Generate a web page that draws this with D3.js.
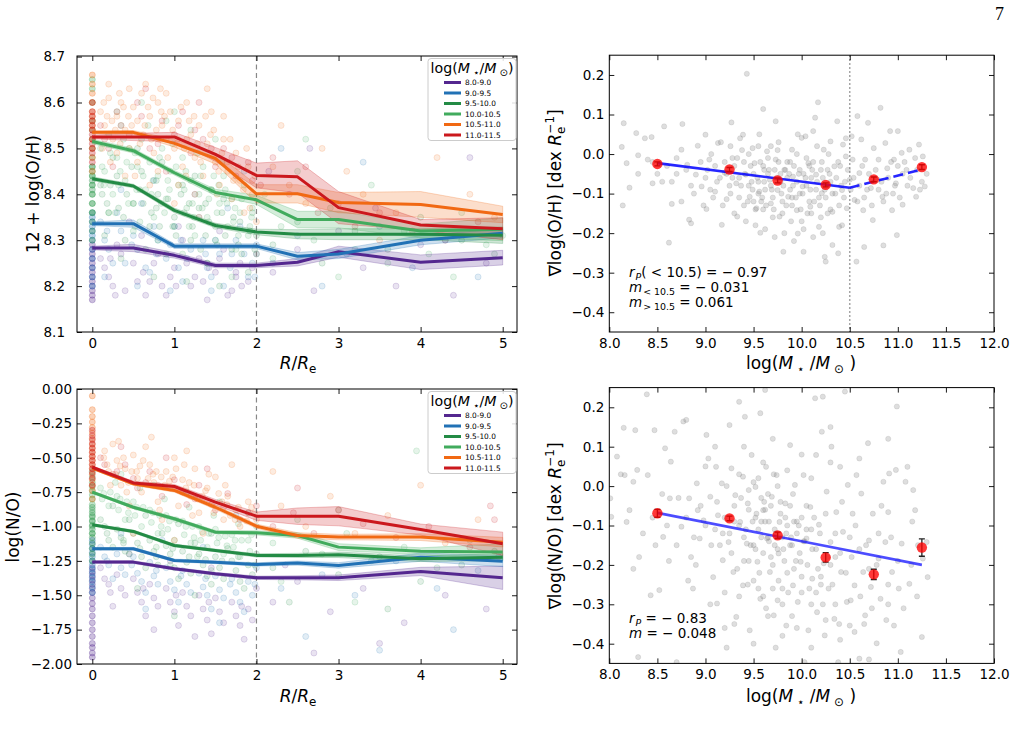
<!DOCTYPE html>
<html>
<head>
<meta charset="utf-8">
<script src="https://cdn.jsdelivr.net/npm/d3@7"></script>
<style>
  body { margin: 0; background: #fff; }
  svg text { font-family: "DejaVu Sans", sans-serif; fill: #000; }
</style>
</head>
<body>
<svg id="fig" width="1025" height="734"></svg>
<script>
// ---------------- data ----------------
const radii = [0, 0.5, 1, 1.5, 2, 2.5, 3, 4, 5];
const massBins = ["8.0-9.0", "9.0-9.5", "9.5-10.0", "10.0-10.5", "10.5-11.0", "11.0-11.5"];
const binColors = ["#54278f", "#2171b5", "#238b45", "#41ab5d", "#f16913", "#cb181d"];

// median profiles, one row per mass bin
const ohMedian = [
  [8.283, 8.283, 8.267, 8.245, 8.245, 8.252, 8.275, 8.252, 8.262],
  [8.336, 8.336, 8.287, 8.287, 8.287, 8.265, 8.270, 8.300, 8.315],
  [8.434, 8.418, 8.365, 8.332, 8.318, 8.313, 8.313, 8.313, 8.311],
  [8.515, 8.495, 8.447, 8.404, 8.388, 8.345, 8.345, 8.320, 8.324],
  [8.535, 8.535, 8.511, 8.478, 8.401, 8.401, 8.382, 8.378, 8.356],
  [8.525, 8.525, 8.525, 8.487, 8.441, 8.438, 8.371, 8.333, 8.325]
];
const ohErr = [
  [0.004, 0.008, 0.006, 0.005, 0.005, 0.008, 0.012, 0.016, 0.016],
  [0.004, 0.008, 0.005, 0.005, 0.005, 0.008, 0.010, 0.010, 0.010],
  [0.004, 0.004, 0.005, 0.005, 0.006, 0.010, 0.012, 0.012, 0.018],
  [0.005, 0.005, 0.005, 0.007, 0.010, 0.018, 0.018, 0.015, 0.025],
  [0.003, 0.004, 0.008, 0.012, 0.020, 0.020, 0.022, 0.028, 0.018],
  [0.004, 0.008, 0.010, 0.015, 0.027, 0.035, 0.035, 0.012, 0.024]
];
const noMedian = [
  [-1.259, -1.259, -1.307, -1.344, -1.373, -1.373, -1.373, -1.327, -1.373],
  [-1.162, -1.162, -1.247, -1.260, -1.276, -1.266, -1.283, -1.223, -1.252],
  [-0.988, -1.036, -1.138, -1.174, -1.210, -1.210, -1.206, -1.235, -1.223],
  [-0.750, -0.860, -0.944, -1.041, -1.046, -1.065, -1.150, -1.180, -1.186],
  [-0.576, -0.690, -0.738, -0.860, -0.998, -1.065, -1.077, -1.077, -1.114],
  [-0.569, -0.683, -0.709, -0.823, -0.925, -0.925, -0.925, -1.022, -1.126]
];
const noErr = [
  [0.008, 0.010, 0.010, 0.010, 0.012, 0.015, 0.020, 0.030, 0.085],
  [0.008, 0.010, 0.010, 0.010, 0.012, 0.015, 0.020, 0.030, 0.040],
  [0.008, 0.010, 0.010, 0.010, 0.012, 0.015, 0.020, 0.020, 0.025],
  [0.010, 0.010, 0.012, 0.012, 0.015, 0.020, 0.025, 0.025, 0.060],
  [0.008, 0.010, 0.012, 0.015, 0.015, 0.020, 0.020, 0.025, 0.035],
  [0.010, 0.012, 0.015, 0.020, 0.030, 0.060, 0.070, 0.040, 0.085]
];

// individual spaxel-bin values (R/Re, value), per mass bin
const ohScatter = [
  [[0.1,8.26],[0.2,8.22],[0.3,8.29],[0.4,8.19],[0.5,8.25],[0.6,8.31],[0.7,8.21],[0.8,8.27],[0.9,8.18],[1.0,8.24],[1.1,8.3],[1.2,8.2],[1.3,8.26],[1.4,8.17],[1.5,8.23],[1.6,8.28],[1.7,8.19],[1.8,8.25],[1.9,8.21],[2.0,8.27],[0.45,8.34],[1.05,8.33],[1.55,8.32],[2.2,8.23],[2.5,8.28],[2.7,8.19],[3.0,8.32],[3.3,8.24],[3.7,8.2],[4.0,8.29],[4.4,8.18],[4.8,8.25],[2.15,8.45],[2.65,8.5],[3.45,8.37],[4.6,8.48],[0.25,8.2],[0.65,8.18],[1.25,8.22],[1.75,8.23],
   [0.15,8.24],[0.35,8.27],[0.55,8.21],[0.75,8.25],[0.95,8.22],[1.15,8.25],[1.35,8.21],[1.55,8.26],[1.75,8.22],[1.95,8.24],[0.28,8.18],[0.85,8.2],[1.65,8.18],
   [0.22,8.26],[0.62,8.23],[1.02,8.2],[1.42,8.24],[1.82,8.2]],
  [[0.1,8.34],[0.2,8.28],[0.3,8.36],[0.4,8.25],[0.5,8.31],[0.6,8.38],[0.7,8.23],[0.8,8.3],[0.9,8.26],[1.0,8.33],[1.1,8.21],[1.2,8.28],[1.3,8.35],[1.4,8.24],[1.5,8.3],[1.6,8.2],[1.7,8.27],[1.8,8.33],[1.9,8.22],[2.0,8.29],[0.35,8.41],[0.75,8.43],[1.25,8.4],[0.55,8.2],[0.95,8.19],[1.65,8.37],[2.2,8.25],[2.5,8.31],[2.8,8.2],[3.1,8.27],[3.5,8.33],[3.9,8.24],[4.3,8.3],[4.7,8.22],[2.3,8.5],[3.3,8.47],[1.85,8.45],[0.15,8.22],[1.45,8.19],
   [0.15,8.3],[0.35,8.32],[0.55,8.28],[0.75,8.33],[0.95,8.29],[1.15,8.26],[1.35,8.3],[1.55,8.27],[1.75,8.3],[1.95,8.25],[0.25,8.25],[0.65,8.24],[1.05,8.24],[1.45,8.22],[1.85,8.27],
   [0.18,8.32],[0.48,8.29],[0.78,8.27],[1.08,8.3],[1.38,8.27],[1.68,8.24],[1.98,8.22]],
  [[0.1,8.42],[0.2,8.36],[0.3,8.44],[0.4,8.3],[0.5,8.38],[0.6,8.45],[0.7,8.33],[0.8,8.4],[0.9,8.27],[1.0,8.35],[1.1,8.42],[1.2,8.3],[1.3,8.37],[1.4,8.25],[1.5,8.33],[1.6,8.39],[1.7,8.28],[1.8,8.34],[1.9,8.23],[2.0,8.31],[0.25,8.48],[0.55,8.5],[0.85,8.47],[0.35,8.26],[0.75,8.22],[1.15,8.21],[1.55,8.2],[1.95,8.36],[2.2,8.29],[2.5,8.34],[2.8,8.25],[3.2,8.32],[3.6,8.28],[4.0,8.35],[4.5,8.3],[4.9,8.27],[1.25,8.44],[0.15,8.31],[0.65,8.28],[1.45,8.41],
   [0.12,8.4],[0.22,8.42],[0.32,8.37],[0.42,8.4],[0.52,8.33],[0.62,8.38],[0.72,8.36],[0.82,8.33],[0.92,8.39],[1.02,8.31],[1.12,8.36],[1.22,8.33],[1.32,8.28],[1.42,8.34],[1.52,8.29],[1.62,8.31],[1.72,8.35],[1.82,8.27],[1.92,8.32],[0.48,8.46],[0.78,8.43],[1.08,8.4],[1.38,8.38],
   [0.18,8.38],[0.38,8.35],[0.58,8.41],[0.78,8.37],[0.98,8.33],[1.18,8.38],[1.38,8.31],[1.58,8.36],[1.78,8.29],[1.98,8.28]],
  [[0.1,8.5],[0.15,8.45],[0.2,8.53],[0.25,8.4],[0.3,8.48],[0.35,8.55],[0.4,8.43],[0.45,8.5],[0.5,8.38],[0.55,8.46],[0.6,8.52],[0.65,8.41],[0.7,8.47],[0.75,8.35],[0.8,8.44],[0.85,8.5],[0.9,8.39],[0.95,8.45],[1.0,8.33],[1.05,8.42],[1.1,8.48],[1.15,8.37],[1.2,8.43],[1.25,8.31],[1.3,8.4],[1.35,8.46],[1.4,8.35],[1.45,8.41],[1.5,8.3],[1.55,8.38],[1.6,8.44],[1.65,8.33],[1.7,8.39],[1.75,8.28],[1.8,8.36],[1.85,8.42],[1.9,8.31],[1.95,8.37],[2.0,8.27],[0.3,8.58],[0.6,8.6],[0.9,8.56],[1.2,8.54],[1.5,8.52],[0.2,8.36],[0.5,8.32],[0.8,8.3],[1.1,8.27],[1.4,8.25],[1.7,8.22],[2.1,8.4],[2.3,8.33],[2.5,8.45],[2.7,8.3],[2.9,8.37],[3.2,8.28],[3.4,8.42],[3.8,8.32],[4.1,8.27],[4.5,8.36],[4.8,8.29],[2.2,8.26],[3.0,8.22],[3.6,8.25],[4.4,8.22],[5.0,8.31],[2.6,8.52],[1.0,8.58],
   [0.12,8.46],[0.22,8.49],[0.32,8.42],[0.42,8.47],[0.52,8.49],[0.62,8.44],[0.72,8.4],[0.82,8.48],[0.92,8.43],[1.02,8.46],[1.12,8.41],[1.22,8.38],[1.32,8.44],[1.42,8.39],[1.52,8.36],[1.62,8.41],[1.72,8.34],[1.82,8.39],[1.92,8.33],[0.28,8.36],[0.58,8.34],[0.88,8.36],[1.18,8.33],[1.48,8.44],[1.78,8.31],[0.38,8.52],[0.68,8.55],[0.98,8.51],[1.28,8.49],[1.58,8.47],
   [0.14,8.42],[0.34,8.45],[0.54,8.41],[0.74,8.43],[0.94,8.41],[1.14,8.45],[1.34,8.37],[1.54,8.42],[1.74,8.37],[1.94,8.35],[0.44,8.38],[0.84,8.38],[1.24,8.35],[1.64,8.38]],
  [[0.1,8.58],[0.15,8.55],[0.2,8.61],[0.25,8.52],[0.3,8.57],[0.35,8.6],[0.4,8.54],[0.45,8.5],[0.5,8.59],[0.55,8.56],[0.6,8.62],[0.62,8.53],[0.7,8.57],[0.75,8.49],[0.8,8.6],[0.85,8.55],[0.9,8.52],[0.95,8.58],[1.0,8.5],[1.05,8.56],[1.1,8.46],[1.15,8.6],[1.2,8.53],[1.25,8.48],[1.3,8.55],[1.35,8.44],[1.4,8.51],[1.45,8.58],[1.5,8.47],[1.55,8.42],[1.6,8.52],[1.65,8.45],[1.7,8.39],[1.75,8.49],[1.8,8.43],[1.85,8.36],[1.9,8.46],[1.95,8.4],[2.0,8.34],[0.3,8.49],[0.55,8.47],[0.8,8.45],[1.05,8.42],[1.25,8.4],[0.2,8.64],[0.65,8.64],[1.4,8.63],[0.12,8.5],[0.45,8.63],[0.9,8.62],[1.15,8.52],[1.6,8.57],[2.2,8.46],[2.4,8.42],[2.6,8.38],[2.8,8.5],[3.1,8.45],[3.3,8.4],[3.7,8.36],[4.2,8.48],[4.6,8.4],[2.3,8.55],[3.5,8.3],[4.9,8.35],[0.7,8.42],[1.0,8.38],[1.3,8.35],[0.4,8.44],
   [0.18,8.57],[0.28,8.54],[0.38,8.59],[0.48,8.55],[0.58,8.51],[0.68,8.59],[0.78,8.54],[0.88,8.57],[0.98,8.54],[1.08,8.59],[1.18,8.56],[1.28,8.51],[1.38,8.57],[1.48,8.54],[1.58,8.49],[1.68,8.52],[1.78,8.46],[1.88,8.5],[1.98,8.44],[0.22,8.47],[0.52,8.44],[0.72,8.52],[0.92,8.48],[1.12,8.5],[1.32,8.47],[1.52,8.4],[1.72,8.43],[1.92,8.37],[0.33,8.62],[0.83,8.63],
   [0.14,8.6],[0.24,8.56],[0.44,8.57],[0.64,8.55],[0.84,8.58],[1.04,8.52],[1.24,8.57],[1.44,8.53],[1.64,8.47],[1.84,8.41],[0.34,8.51],[0.74,8.61],[1.14,8.44],[1.54,8.45]],
  [[0.1,8.55],[0.2,8.5],[0.3,8.58],[0.45,8.53],[0.55,8.6],[0.7,8.5],[0.85,8.56],[1.0,8.53],[1.1,8.58],[1.2,8.49],[1.35,8.52],[1.5,8.46],[1.6,8.5],[1.75,8.44],[1.9,8.47],[2.05,8.42],[2.2,8.48],[2.4,8.4],[2.6,8.46],[2.75,8.36],[3.0,8.38],[3.2,8.33],[3.5,8.36],[3.9,8.32],[4.3,8.3],[4.7,8.34],[0.65,8.63],[1.3,8.6],[0.25,8.46],[0.9,8.45],
   [0.15,8.52],[0.35,8.55],[0.6,8.57],[0.8,8.51],[1.05,8.55],[1.25,8.54],[1.45,8.5],[1.7,8.48],[1.95,8.43]]
];
const noScatter = [
  [[0.1,-1.3],[0.2,-1.42],[0.3,-1.35],[0.4,-1.5],[0.5,-1.38],[0.6,-1.55],[0.7,-1.42],[0.8,-1.58],[0.9,-1.45],[1.0,-1.62],[1.1,-1.48],[1.2,-1.65],[1.3,-1.5],[1.4,-1.68],[1.5,-1.52],[1.6,-1.7],[1.7,-1.55],[1.8,-1.72],[1.9,-1.6],[2.0,-1.45],[0.45,-1.2],[0.95,-1.25],[1.45,-1.3],[0.75,-1.75],[1.25,-1.8],[2.2,-1.55],[2.5,-1.4],[2.9,-1.62],[3.3,-1.45],[3.8,-1.7],[4.3,-1.5],[4.8,-1.6],[2.7,-1.92],[3.5,-1.85],[2.35,-1.28],[4.95,-1.22],
   [0.15,-1.38],[0.35,-1.45],[0.55,-1.48],[0.75,-1.52],[0.95,-1.55],[1.15,-1.58],[1.35,-1.6],[1.55,-1.62],[1.75,-1.65],[1.95,-1.68],[0.25,-1.58],[0.65,-1.65],[1.05,-1.72],[1.45,-1.78],[1.85,-1.82],
   [0.22,-1.48],[0.62,-1.45],[1.02,-1.5],[1.42,-1.55],[1.82,-1.58]],
  [[0.1,-1.15],[0.2,-1.28],[0.3,-1.2],[0.4,-1.35],[0.5,-1.22],[0.6,-1.4],[0.7,-1.26],[0.8,-1.42],[0.9,-1.3],[1.0,-1.46],[1.1,-1.32],[1.2,-1.48],[1.3,-1.34],[1.4,-1.5],[1.5,-1.36],[1.6,-1.52],[1.7,-1.38],[1.8,-1.55],[1.9,-1.4],[2.0,-1.3],[0.35,-1.05],[0.85,-1.1],[1.35,-1.15],[0.65,-1.6],[1.55,-1.7],[2.3,-1.45],[2.8,-1.35],[3.2,-1.5],[3.7,-1.25],[4.2,-1.45],[4.7,-1.32],[2.6,-1.8],[3.5,-1.9],[4.4,-1.75],[1.75,-0.92],
   [0.15,-1.22],[0.35,-1.3],[0.55,-1.34],[0.75,-1.36],[0.95,-1.4],[1.15,-1.42],[1.35,-1.44],[1.55,-1.46],[1.75,-1.48],[1.95,-1.5],[0.25,-1.38],[0.65,-1.48],[1.05,-1.55],[1.45,-1.6],[1.85,-1.62],
   [0.18,-1.25],[0.48,-1.28],[0.78,-1.32],[1.08,-1.36],[1.38,-1.38],[1.68,-1.42],[1.98,-1.42]],
  [[0.1,-0.95],[0.2,-1.1],[0.3,-1.02],[0.4,-1.18],[0.5,-1.05],[0.6,-1.22],[0.7,-1.1],[0.8,-1.28],[0.9,-1.14],[1.0,-1.3],[1.1,-1.18],[1.2,-1.34],[1.3,-1.2],[1.4,-1.36],[1.5,-1.22],[1.6,-1.38],[1.7,-1.25],[1.8,-1.4],[1.9,-1.28],[2.0,-1.2],[0.25,-0.85],[0.65,-0.92],[1.05,-0.98],[1.45,-1.05],[0.55,-1.45],[1.25,-1.5],[2.2,-1.3],[2.6,-1.18],[3.0,-1.35],[3.5,-1.22],[4.0,-1.4],[4.5,-1.28],[4.9,-1.18],[2.4,-1.55],[3.6,-1.6],[1.0,-1.65],
   [0.15,-1.0],[0.35,-1.08],[0.55,-1.12],[0.75,-1.18],[0.95,-1.2],[1.15,-1.26],[1.35,-1.28],[1.55,-1.3],[1.75,-1.32],[1.95,-1.35],[0.25,-1.15],[0.65,-1.3],[1.05,-1.38],[1.45,-1.42],[1.85,-1.45],[0.45,-0.95],[0.85,-1.05],[1.25,-1.12],[1.65,-1.16],
   [0.18,-1.05],[0.38,-1.12],[0.58,-1.16],[0.78,-1.22],[0.98,-1.16],[1.18,-1.22],[1.38,-1.24],[1.58,-1.25],[1.78,-1.22],[1.98,-1.28]],
  [[0.1,-0.72],[0.2,-0.85],[0.3,-0.78],[0.4,-0.95],[0.5,-0.82],[0.6,-1.0],[0.7,-0.88],[0.8,-1.05],[0.9,-0.92],[1.0,-1.1],[1.1,-0.96],[1.2,-1.12],[1.3,-1.0],[1.4,-1.15],[1.5,-1.02],[1.6,-1.2],[1.7,-1.06],[1.8,-1.22],[1.9,-1.1],[2.0,-1.0],[0.35,-0.62],[0.75,-0.7],[1.15,-0.75],[1.55,-0.82],[1.9,-0.9],[0.45,-1.2],[0.95,-1.28],[1.45,-1.32],[2.2,-1.12],[2.5,-0.95],[2.8,-1.2],[3.1,-1.05],[3.4,-1.25],[3.8,-1.15],[4.2,-1.3],[4.6,-1.1],[3.0,-0.88],[2.3,-1.4],[3.2,-1.55],[3.95,-0.45],
   [0.12,-0.8],[0.22,-0.75],[0.32,-0.88],[0.42,-0.82],[0.52,-0.92],[0.62,-0.86],[0.72,-0.97],[0.82,-0.92],[0.92,-1.02],[1.02,-0.95],[1.12,-1.06],[1.22,-1.0],[1.32,-1.1],[1.42,-1.05],[1.52,-1.12],[1.62,-1.07],[1.72,-1.15],[1.82,-1.1],[1.92,-1.18],[0.28,-0.68],[0.58,-0.72],[0.88,-0.8],[1.18,-0.86],[1.48,-0.92],[1.78,-0.98],[0.38,-1.1],[0.78,-1.15],[1.28,-1.22],
   [0.14,-0.76],[0.34,-0.8],[0.54,-0.86],[0.74,-0.9],[0.94,-0.96],[1.14,-1.0],[1.34,-1.04],[1.54,-1.08],[1.74,-1.1],[1.94,-1.06],[0.44,-0.9],[0.84,-1.0],[1.24,-1.08],[1.64,-1.14]],
  [[0.15,-0.45],[0.2,-0.6],[0.3,-0.52],[0.35,-0.7],[0.4,-0.58],[0.5,-0.48],[0.55,-0.65],[0.6,-0.75],[0.7,-0.55],[0.75,-0.68],[0.8,-0.82],[0.9,-0.6],[0.95,-0.72],[1.0,-0.5],[1.05,-0.85],[1.1,-0.66],[1.2,-0.78],[1.25,-0.58],[1.3,-0.9],[1.4,-0.72],[1.45,-0.84],[1.5,-0.64],[1.6,-0.95],[1.65,-0.78],[1.75,-0.88],[1.8,-1.0],[1.9,-0.82],[2.0,-0.95],[0.25,-0.4],[0.65,-0.42],[1.15,-0.45],[0.45,-0.85],[0.85,-0.95],[1.35,-1.05],[1.7,-0.55],[2.3,-0.85],[2.6,-1.0],[2.9,-0.78],[3.2,-1.05],[3.6,-0.92],[4.0,-0.7],[4.3,-1.12],[4.7,-0.95],[0.5,-1.05],[1.0,-1.1],[2.2,-0.6],
   [0.18,-0.55],[0.28,-0.62],[0.38,-0.5],[0.48,-0.6],[0.58,-0.56],[0.68,-0.65],[0.78,-0.6],[0.88,-0.7],[0.98,-0.64],[1.08,-0.74],[1.18,-0.68],[1.28,-0.8],[1.38,-0.74],[1.48,-0.9],[1.58,-0.82],[1.68,-0.92],[1.78,-0.86],[1.88,-0.96],[1.98,-0.9],[0.22,-0.7],[0.42,-0.75],[0.62,-0.52],[0.82,-0.88],[1.02,-0.58],[1.22,-0.92],[1.42,-0.62],[1.62,-0.7],[0.32,-0.38],[0.72,-0.35],[1.12,-0.55],
   [0.14,-0.5],[0.34,-0.56],[0.54,-0.6],[0.74,-0.62],[0.94,-0.67],[1.14,-0.72],[1.34,-0.78],[1.54,-0.76],[1.74,-0.95],[1.94,-0.86],[0.44,-0.68],[0.84,-0.64],[1.24,-0.7],[1.64,-0.84]],
  [[0.1,-0.5],[0.25,-0.62],[0.4,-0.55],[0.55,-0.72],[0.7,-0.6],[0.85,-0.78],[1.0,-0.66],[1.15,-0.84],[1.3,-0.7],[1.5,-0.88],[1.65,-0.76],[1.8,-0.95],[2.0,-0.85],[2.2,-1.0],[2.45,-0.9],[2.7,-1.05],[3.0,-0.88],[3.3,-0.98],[3.7,-1.08],[4.1,-1.0],[4.6,-1.15],[0.35,-0.42],[0.9,-0.5],[1.4,-0.58],[2.5,-0.72],[4.85,-0.85],[4.9,-0.95],
   [0.15,-0.55],[0.3,-0.6],[0.5,-0.65],[0.65,-0.68],[0.8,-0.7],[1.1,-0.75],[1.25,-0.8],[1.6,-0.86],[1.9,-0.9]]
];
// central (R = 0) values, per mass bin
const ohCentral = [
  [8.17,8.18,8.19,8.2,8.21,8.22,8.23,8.24,8.25,8.26,8.27,8.28,8.29],
  [8.2,8.22,8.24,8.26,8.28,8.3,8.31,8.32,8.33,8.34,8.35,8.36],
  [8.3,8.32,8.34,8.36,8.38,8.4,8.41,8.42,8.43,8.44,8.45,8.46],
  [8.36,8.38,8.4,8.42,8.44,8.46,8.48,8.5,8.52,8.54,8.56,8.6,8.63,8.65],
  [8.45,8.48,8.5,8.52,8.54,8.55,8.56,8.57,8.58,8.6,8.62,8.64,8.66],
  [8.47,8.49,8.5,8.51,8.52,8.53,8.54,8.55,8.56,8.57,8.58,8.6]
];
const noCentral = [
  [-1.95,-1.92,-1.88,-1.85,-1.8,-1.75,-1.7,-1.65,-1.6,-1.56,-1.52,-1.48,-1.45,-1.42,-1.39,-1.36,-1.33,-1.3],
  [-1.48,-1.44,-1.4,-1.37,-1.34,-1.31,-1.28,-1.25,-1.22,-1.19,-1.16,-1.13,-1.1],
  [-1.25,-1.2,-1.16,-1.12,-1.08,-1.05,-1.02,-0.99,-0.96,-0.93,-0.9,-0.86],
  [-1.05,-1.0,-0.96,-0.92,-0.88,-0.84,-0.8,-0.77,-0.74,-0.71,-0.68,-0.64,-0.6],
  [-0.8,-0.74,-0.7,-0.66,-0.62,-0.58,-0.55,-0.52,-0.49,-0.46,-0.43,-0.4,-0.36,-0.32,-0.28,-0.24,-0.2,-0.15,-0.05],
  [-0.7,-0.65,-0.61,-0.58,-0.55,-0.52,-0.49,-0.46,-0.43,-0.4,-0.37,-0.34,-0.3]
];

// gradient vs mass
const massCenters = [8.5, 9.25, 9.75, 10.25, 10.75, 11.25];
const ohGrad = [-0.025, -0.039, -0.067, -0.078, -0.064, -0.033];
const ohGradErr = [0.005, 0.005, 0.006, 0.005, 0.006, 0.006];
const noGrad = [-0.069, -0.082, -0.125, -0.181, -0.224, -0.156];
const noGradErr = [0.010, 0.006, 0.008, 0.012, 0.013, 0.022];
const ohFitLow = [[8.5, -0.023], [10.5, -0.085]];
const ohFitHigh = [[10.5, -0.085], [11.25, -0.039]];
const noFit = [[8.5, -0.068], [11.25, -0.200]];

const ohGradPts = [[8.13,0.018],[8.15,0.078],[8.14,-0.13],[8.18,-0.023],[8.21,-0.085],[8.28,0.053],[8.3,-0.003],[8.37,0.04],[8.44,0.043],[8.4,-0.014],[8.45,-0.074],[8.57,0.07],[8.62,-0.224],[8.65,-0.126],[8.7,-0.01],[8.76,0.076],[8.75,0.011],[8.81,-0.027],[8.83,-0.166],[8.85,-0.175],[8.9,-0.052],[8.92,0.021],[8.96,-0.082],[9.01,-0.139],[9.0,0.049],[9.04,-0.014],[9.1,-0.095],[9.13,0.028],[9.17,-0.179],[9.2,-0.047],[9.22,-0.114],[9.27,0.08],[9.28,-0.01],[9.32,-0.074],[9.33,-0.158],[9.39,0.049],[9.42,-0.052],[9.43,0.203],[9.46,-0.108],[9.49,0.015],[9.51,-0.023],[9.53,-0.137],[9.56,-0.095],[9.57,-0.199],[9.6,0.114],[9.61,-0.04],[9.64,0.007],[9.67,-0.065],[9.68,-0.125],[9.73,0.083],[9.73,-0.014],[9.75,-0.091],[9.77,-0.158],[9.81,-0.247],[9.83,-0.04],[9.86,-0.108],[9.9,0.011],[9.91,-0.057],[9.95,-0.142],[9.96,-0.201],[10.0,0.041],[10.01,-0.082],[10.02,-0.247],[10.04,0.045],[10.07,-0.023],[10.09,-0.133],[10.12,0.058],[10.14,0.092],[10.15,-0.052],[10.17,0.131],[10.18,-0.184],[10.21,-0.099],[10.23,0.011],[10.24,-0.26],[10.25,-0.272],[10.27,-0.04],[10.3,0.032],[10.32,-0.146],[10.34,-0.031],[10.37,0.083],[10.38,-0.251],[10.39,-0.184],[10.42,-0.091],[10.43,0.024],[10.46,-0.006],[10.47,-0.137],[10.5,-0.065],[10.52,0.045],[10.53,-0.014],[10.55,-0.116],[10.57,-0.272],[10.58,0.096],[10.6,-0.048],[10.62,0.037],[10.64,-0.142],[10.65,-0.235],[10.66,-0.014],[10.69,0.079],[10.72,-0.086],[10.74,-0.167],[10.75,0.015],[10.79,-0.065],[10.8,-0.014],[10.82,0.117],[10.84,-0.108],[10.85,-0.231],[10.87,0.028],[10.89,-0.036],[10.92,0.058],[10.94,-0.142],[10.96,-0.014],[10.98,-0.074],[10.99,-0.205],[11.0,0.058],[11.04,0.003],[11.05,-0.128],[11.09,-0.04],[11.12,0.011],[11.16,-0.086],[11.19,-0.108],[11.22,0.024],[11.26,-0.006],[11.28,-0.082],[11.25,-0.07],[9.3,-0.03],[9.35,-0.06],[9.4,-0.02],[9.45,-0.08],[9.5,-0.05],[9.55,-0.07],[9.6,-0.03],[9.62,-0.09],[9.65,-0.05],[9.7,-0.11],[9.72,-0.04],[9.78,-0.07],[9.8,-0.12],[9.85,-0.06],[9.88,-0.09],[9.92,-0.03],[9.95,-0.07],[9.98,-0.1],[10.02,-0.05],[10.05,-0.08],[10.08,-0.12],[10.1,-0.06],[10.15,-0.09],[10.2,-0.04],[10.25,-0.11],[10.3,-0.07],[10.35,-0.1],[9.25,-0.08],[9.2,-0.02],[9.15,-0.06],[9.1,-0.03],[9.05,-0.09],[9.45,0.0],[9.55,0.02],[9.65,-0.01],[9.75,0.01],[9.85,-0.02],[9.95,0.0],[10.05,-0.01],[9.5,-0.12],[9.6,-0.14],[9.7,-0.16],[9.8,-0.15],[9.9,-0.13],[10.0,-0.17],[10.1,-0.15],[10.2,-0.16],[10.3,-0.14],[9.35,-0.11],[9.4,-0.13],[9.55,-0.1],[9.68,-0.08],[9.82,-0.04],[9.9,-0.11],[10.12,-0.02],[10.22,-0.06],[10.4,-0.03],[10.45,-0.07],[10.6,-0.08],[10.7,-0.05],[10.8,-0.09],[10.9,-0.06],[11.0,-0.03],[11.1,-0.08],[10.65,-0.11],[10.85,-0.12],[10.95,-0.1],[11.05,-0.05],[11.2,-0.04],[11.3,-0.05],[9.0,-0.06],[8.95,-0.02],[8.85,-0.08],[8.7,-0.05],[8.6,-0.03],[8.55,-0.07],[8.3,-0.05],
  [9.02,-0.04],[9.08,-0.11],[9.12,-0.07],[9.18,-0.13],[9.22,-0.05],[9.26,-0.1],[9.3,-0.15],[9.33,-0.01],[9.37,-0.08],[9.41,-0.05],[9.44,-0.12],[9.47,-0.03],[9.49,-0.09],[9.52,-0.14],[9.54,-0.06],[9.57,-0.02],[9.59,-0.11],[9.61,-0.07],[9.63,-0.13],[9.66,-0.04],[9.69,-0.09],[9.71,-0.14],[9.74,-0.06],[9.76,-0.02],[9.79,-0.1],[9.81,-0.08],[9.84,-0.13],[9.87,-0.05],[9.89,-0.17],[9.91,-0.08],[9.94,-0.11],[9.97,-0.05],[9.99,-0.14],[10.01,-0.1],[10.04,-0.06],[10.06,-0.15],[10.09,-0.09],[10.11,-0.04],[10.13,-0.12],[10.16,-0.07],[10.19,-0.13],[10.21,-0.02],[10.24,-0.09],[10.27,-0.15],[10.29,-0.05],[10.32,-0.1],[10.36,-0.06],[10.39,-0.13],[10.41,-0.08],[10.44,-0.11],[10.48,-0.04],[10.51,-0.09],[10.54,-0.06],[10.58,-0.12],[10.63,-0.03],[10.68,-0.09],[10.73,-0.13],[10.77,-0.04],[10.83,-0.07],[10.88,-0.1],[10.93,-0.02],[10.97,-0.08],[11.02,-0.11],[11.07,-0.02],[11.13,-0.06],[11.18,-0.01],[11.23,-0.09],[9.28,-0.06],[9.38,0.01],[9.48,-0.07],[9.58,-0.12],[9.68,0.02],[9.78,-0.05],[9.88,-0.02],[9.98,-0.04],[10.08,-0.03],[10.18,-0.11],[10.28,0.0],[10.38,-0.02],[9.42,-0.17],[9.62,-0.19],[9.82,-0.2],[10.02,-0.19],[10.22,-0.2],[10.42,-0.18],[9.52,-0.18],[9.72,-0.21],[9.92,-0.22],[10.12,-0.21],[10.32,-0.23],[8.8,-0.04],[8.88,-0.1],[8.98,-0.13],[9.06,0.0],[9.16,0.03],[8.75,-0.12],[8.65,-0.07],[8.5,-0.05],[8.45,-0.02],[9.26,0.02],[9.36,0.04],[9.56,0.05],[9.76,0.03],[9.96,0.05],[10.16,0.02],[10.46,0.04]];

const noGradPts = [[8.01,-0.031],[8.02,-0.078],[8.08,0.075],[8.15,0.148],[8.16,0.028],[8.18,-0.091],[8.21,-0.061],[8.25,0.011],[8.27,0.142],[8.29,0.041],[8.31,-0.18],[8.3,-0.434],[8.39,0.233],[8.4,0.028],[8.43,-0.277],[8.47,0.142],[8.48,-0.15],[8.52,-0.264],[8.56,-0.129],[8.58,0.096],[8.63,-0.031],[8.64,0.062],[8.68,0.138],[8.7,-0.447],[8.75,-0.103],[8.77,0.164],[8.8,0.168],[8.83,-0.031],[8.85,-0.18],[8.87,-0.26],[8.91,0.007],[8.92,-0.061],[8.94,-0.133],[8.98,-0.087],[9.01,0.13],[9.03,0.07],[9.05,-0.027],[9.06,-0.15],[9.08,-0.231],[9.11,0.049],[9.12,-0.298],[9.13,-0.074],[9.17,0.007],[9.18,-0.188],[9.2,-0.27],[9.22,-0.41],[9.24,-0.142],[9.25,0.155],[9.27,0.045],[9.29,-0.218],[9.31,-0.023],[9.32,-0.332],[9.35,0.214],[9.36,-0.091],[9.39,0.024],[9.39,-0.252],[9.41,0.176],[9.43,-0.146],[9.44,-0.044],[9.46,-0.366],[9.48,0.079],[9.49,-0.09],[9.52,-0.002],[9.54,-0.192],[9.57,0.185],[9.57,-0.286],[9.6,-0.061],[9.62,0.244],[9.63,0.049],[9.64,-0.133],[9.67,-0.218],[9.69,-0.027],[9.71,-0.328],[9.73,-0.41],[9.74,0.028],[9.76,-0.171],[9.77,-0.091],[9.8,-0.26],[9.83,-0.044],[9.84,-0.354],[9.88,0.104],[9.88,-0.15],[9.91,-0.252],[9.93,0.003],[9.95,-0.09],[9.96,-0.294],[9.99,-0.192],[10.02,0.028],[10.03,-0.447],[10.05,-0.133],[10.07,-0.366],[10.09,-0.053],[10.11,-0.235],[10.14,0.223],[10.15,0.079],[10.16,-0.32],[10.18,-0.098],[10.21,0.138],[10.22,0.227],[10.23,-0.196],[10.24,-0.379],[10.26,-0.014],[10.28,-0.26],[10.3,-0.142],[10.31,0.1],[10.34,-0.337],[10.36,-0.066],[10.38,-0.447],[10.4,0.049],[10.41,-0.218],[10.43,-0.116],[10.45,0.24],[10.47,-0.294],[10.48,0.003],[10.5,-0.354],[10.52,-0.18],[10.53,-0.07],[10.55,-0.252],[10.57,0.028],[10.6,-0.438],[10.62,-0.019],[10.64,-0.218],[10.66,-0.328],[10.69,0.109],[10.7,-0.138],[10.72,-0.256],[10.74,-0.07],[10.78,-0.399],[10.8,-0.184],[10.82,-0.286],[10.85,0.011],[10.87,-0.142],[10.9,-0.066],[10.91,0.032],[10.94,-0.218],[10.96,-0.354],[10.98,0.041],[10.99,0.202],[11.01,-0.26],[11.03,-0.421],[11.04,-0.146],[11.08,0.011],[11.1,0.049],[11.12,-0.248],[11.15,-0.09],[11.16,-0.01],[11.18,-0.061],[11.21,-0.15],[11.25,-0.383],[11.26,-0.184],[11.3,-0.142],[11.31,-0.231],[9.3,-0.05],[9.35,-0.1],[9.4,-0.13],[9.45,-0.06],[9.5,-0.15],[9.52,-0.08],[9.55,-0.11],[9.58,-0.03],[9.6,-0.17],[9.62,-0.09],[9.65,-0.13],[9.68,-0.05],[9.7,-0.2],[9.72,-0.11],[9.75,-0.16],[9.78,-0.07],[9.8,-0.13],[9.82,-0.19],[9.85,-0.1],[9.88,-0.05],[9.9,-0.15],[9.92,-0.21],[9.95,-0.12],[9.98,-0.17],[10.0,-0.08],[10.03,-0.14],[10.06,-0.2],[10.1,-0.11],[10.15,-0.16],[10.2,-0.23],[9.25,-0.12],[9.2,-0.08],[9.15,-0.15],[9.1,-0.11],[9.45,-0.01],[9.55,0.02],[9.65,-0.02],[9.75,0.0],[9.4,-0.19],[9.5,-0.24],[9.6,-0.28],[9.7,-0.26],[9.8,-0.3],[9.9,-0.33],[10.0,-0.27],[10.1,-0.3],[10.2,-0.25],[10.3,-0.2],[10.4,-0.17],[10.5,-0.13],[10.6,-0.16],[10.7,-0.21],[10.8,-0.12],[10.9,-0.25],[11.0,-0.19],[9.35,0.03],[9.6,0.06],[9.85,0.04],[10.1,0.02],[10.3,0.06],[9.0,-0.1],[8.9,-0.2],[8.8,-0.08],[8.7,-0.15],[8.6,-0.1],[9.05,-0.3],[9.3,-0.35],[10.35,-0.3],[10.65,-0.35],[10.9,-0.3],
  [9.12,-0.04],[9.18,-0.12],[9.22,0.0],[9.27,-0.17],[9.3,-0.09],[9.33,-0.21],[9.37,-0.03],[9.42,-0.11],[9.44,-0.25],[9.47,-0.15],[9.5,0.01],[9.53,-0.07],[9.56,-0.22],[9.58,-0.13],[9.61,-0.04],[9.63,-0.31],[9.66,-0.09],[9.68,-0.18],[9.71,0.03],[9.73,-0.12],[9.76,-0.24],[9.78,-0.04],[9.81,-0.16],[9.83,-0.08],[9.86,-0.27],[9.89,-0.13],[9.91,-0.02],[9.94,-0.19],[9.97,-0.1],[10.0,-0.23],[10.02,-0.14],[10.05,-0.05],[10.08,-0.26],[10.11,-0.16],[10.13,-0.08],[10.17,-0.21],[10.19,-0.12],[10.22,-0.3],[10.25,-0.07],[10.27,-0.18],[10.32,-0.25],[10.35,-0.12],[10.39,-0.35],[10.42,-0.04],[10.46,-0.22],[10.51,-0.29],[10.56,-0.1],[10.61,-0.28],[10.67,-0.15],[10.73,-0.31],[10.78,-0.2],[10.83,-0.05],[10.88,-0.34],[10.93,-0.13],[11.06,-0.31],[11.14,-0.2],[11.2,-0.28],[8.95,-0.05],[8.88,-0.13],[8.82,-0.24],[8.72,-0.03],[8.62,-0.19],[8.55,-0.02],[8.45,-0.08],[8.35,-0.12],[8.25,-0.21],[8.12,0.03],[9.0,0.05],[9.1,0.1],[9.4,0.1],[9.7,0.12],[10.0,0.08],[10.3,0.15],[10.6,0.07],[10.9,0.12],[9.2,-0.36],[9.5,-0.4],[9.8,-0.38],[10.1,-0.41],[10.4,-0.39],[10.7,-0.44],[9.35,-0.28],[9.65,-0.33],[9.95,-0.36],[10.25,-0.34],[10.55,-0.37],[9.45,-0.19],[9.55,-0.26],[9.75,-0.29],[9.85,-0.22],[10.05,-0.11],[10.15,-0.27],[10.35,-0.18],[9.62,-0.06],[9.52,-0.16],[9.72,-0.15],[9.92,-0.09],[9.84,-0.12],[9.66,-0.14],[9.58,-0.09]];

const rTicks = [0, 1, 2, 3, 4, 5];
const ohTicks = [8.1, 8.2, 8.3, 8.4, 8.5, 8.6, 8.7];
const noTicks = [0, -0.25, -0.5, -0.75, -1.0, -1.25, -1.5, -1.75, -2.0];
const massTicks = [8.0, 8.5, 9.0, 9.5, 10.0, 10.5, 11.0, 11.5, 12.0];
const gradTicks = [0.2, 0.1, 0.0, -0.1, -0.2, -0.3, -0.4];

// ---------------- helpers ----------------
const svg = d3.select("#fig");

// write text made of pieces: plain, italic, subscript, superscript
function rich(textSel, parts, size) {
  let cur = 0;
  parts.forEach(p => {
    const shift = p.sub ? size * 0.24 : p.sup ? -size * 0.42 : 0;
    const ts = textSel.append("tspan")
      .text(p.t)
      .attr("dy", shift - cur)
      .attr("font-size", (p.sub || p.sup) ? size * 0.7 : size);
    if (p.i) ts.attr("font-style", "italic");
    if (p.dx) ts.attr("dx", p.dx);
    cur = shift;
  });
}

let clipId = 0;
function makeAxes(box, x, y, xt, yt, xf, yf, padX, padY) {
  const g = svg.append("g");
  g.append("g").attr("transform", `translate(0,${box.y1})`)
    .call(d3.axisBottom(x).tickValues(xt).tickFormat(xf).tickSizeInner(-5).tickSizeOuter(0).tickPadding(padX));
  g.append("g").attr("transform", `translate(0,${box.y0})`)
    .call(d3.axisTop(x).tickValues(xt).tickFormat("").tickSizeInner(-5).tickSizeOuter(0));
  g.append("g").attr("transform", `translate(${box.x0},0)`)
    .call(d3.axisLeft(y).tickValues(yt).tickFormat(yf).tickSizeInner(-5).tickSizeOuter(0).tickPadding(padY));
  g.append("g").attr("transform", `translate(${box.x1},0)`)
    .call(d3.axisRight(y).tickValues(yt).tickFormat("").tickSizeInner(-5).tickSizeOuter(0));
  g.selectAll(".domain").remove();
  g.selectAll(".tick line").attr("stroke", "#000").attr("stroke-width", 0.9);
  g.selectAll(".tick text").attr("font-size", 13.5).attr("fill", "#000");
  g.append("rect")
    .attr("x", box.x0).attr("y", box.y0)
    .attr("width", box.x1 - box.x0).attr("height", box.y1 - box.y0)
    .attr("fill", "none").attr("stroke", "#000").attr("stroke-width", 1);
  return g;
}

function clipFor(box) {
  const id = "clip" + (clipId++);
  svg.append("clipPath").attr("id", id).append("rect")
    .attr("x", box.x0).attr("y", box.y0)
    .attr("width", box.x1 - box.x0).attr("height", box.y1 - box.y0);
  return `url(#${id})`;
}

// ---------------- profile panels ----------------
function profilePanel(box, yDomain, yRange, scatter, central, median, err, yt, yf, padY) {
  const x = d3.scaleLinear().domain([0, 5]).range([92.3, 502.7]);
  const y = d3.scaleLinear().domain(yDomain).range(yRange);
  const plot = svg.append("g").attr("clip-path", clipFor(box));

  // scatter cloud
  scatter.forEach((pts, i) => {
    plot.append("g").selectAll("circle").data(pts).join("circle")
      .attr("cx", d => x(d[0])).attr("cy", d => y(d[1])).attr("r", 3)
      .attr("fill", binColors[i]).attr("fill-opacity", 0.13)
      .attr("stroke", binColors[i]).attr("stroke-opacity", 0.2).attr("stroke-width", 0.8);
  });
  // central column at R = 0
  central.forEach((vals, i) => {
    plot.append("g").selectAll("circle").data(vals).join("circle")
      .attr("cx", x(0)).attr("cy", d => y(d)).attr("r", 3)
      .attr("fill", binColors[i]).attr("fill-opacity", 0.3)
      .attr("stroke", binColors[i]).attr("stroke-opacity", 0.35).attr("stroke-width", 0.8);
  });

  // dashed R = 2 Re
  plot.append("line")
    .attr("x1", x(2)).attr("x2", x(2)).attr("y1", box.y0).attr("y2", box.y1)
    .attr("stroke", "#888").attr("stroke-width", 1.2).attr("stroke-dasharray", "5,3.5");

  // bands + median lines
  const area = d3.area().x((d, k) => x(radii[k])).y0(d => y(d[0] - d[1])).y1(d => y(d[0] + d[1]));
  const line = d3.line().x((d, k) => x(radii[k])).y(d => y(d));
  median.forEach((row, i) => {
    const band = row.map((v, k) => [v, err[i][k]]);
    plot.append("path").attr("d", area(band))
      .attr("fill", binColors[i]).attr("fill-opacity", 0.22)
      .attr("stroke", binColors[i]).attr("stroke-opacity", 0.25).attr("stroke-width", 1);
  });
  median.forEach((row, i) => {
    plot.append("path").attr("d", line(row))
      .attr("fill", "none").attr("stroke", binColors[i]).attr("stroke-width", 3)
      .attr("stroke-linejoin", "round");
  });

  makeAxes(box, x, y, rTicks, yt, d3.format("d"), yf, 6, padY);

  // legend
  const lg = svg.append("g").attr("transform", `translate(${box.x1 - 89},${box.y0 + 2.5})`);
  lg.append("rect").attr("width", 88).attr("height", 82).attr("rx", 3)
    .attr("fill", "#fff").attr("fill-opacity", 0.85).attr("stroke", "#cccccc").attr("stroke-width", 1);
  const title = lg.append("text").attr("x", 44).attr("y", 14.5).attr("text-anchor", "middle");
  rich(title, [{t: "log("}, {t: "M", i: true}, {t: " ⋆", sub: true}, {t: "/"}, {t: "M", i: true}, {t: " ⊙", sub: true}, {t: ")"}], 14.2);
  massBins.forEach((b, i) => {
    const yy = 24 + i * 10.5;
    lg.append("line").attr("x1", 16).attr("x2", 33).attr("y1", yy).attr("y2", yy)
      .attr("stroke", binColors[i]).attr("stroke-width", 3);
    lg.append("text").attr("x", 37).attr("y", yy + 2.6).attr("font-size", 7.4).text(b);
  });
}

const boxTL = {x0: 77, x1: 517, y0: 56, y1: 332};
const boxBL = {x0: 77, x1: 517, y0: 389, y1: 664};
profilePanel(boxTL, [8.1, 8.7], [332, 56.6], ohScatter, ohCentral, ohMedian, ohErr, ohTicks, d3.format(".1f"), 12);
profilePanel(boxBL, [-2, 0], [664, 389], noScatter, noCentral, noMedian, noErr, noTicks, d3.format(".2f"), 5);

// ---------------- gradient panels ----------------
function gradPanel(box, pts, grad, gradErr, fits, dotted, yRange) {
  const x = d3.scaleLinear().domain([8, 12]).range([box.x0, box.x1]);
  const y = d3.scaleLinear().domain([-0.45, 0.25]).range(yRange);
  const plot = svg.append("g").attr("clip-path", clipFor(box));

  plot.append("g").selectAll("circle").data(pts).join("circle")
    .attr("cx", d => x(d[0])).attr("cy", d => y(d[1])).attr("r", 2.6)
    .attr("fill", "#808080").attr("fill-opacity", 0.26)
    .attr("stroke", "#808080").attr("stroke-opacity", 0.28).attr("stroke-width", 0.6);

  if (dotted) {
    plot.append("line").attr("x1", x(10.5)).attr("x2", x(10.5)).attr("y1", box.y0).attr("y2", box.y1)
      .attr("stroke", "#888").attr("stroke-width", 1.5).attr("stroke-dasharray", "1.5,2.5");
  }

  const line = d3.line().x(d => x(d[0])).y(d => y(d[1]));
  fits.forEach(f => {
    plot.append("path").attr("d", line(f.pts)).attr("fill", "none")
      .attr("stroke", "#0000ff").attr("stroke-opacity", f.op).attr("stroke-width", 2.6)
      .attr("stroke-dasharray", f.dash || null);
  });

  const eb = plot.append("g");
  massCenters.forEach((m, k) => {
    const cx = x(m), yt = y(grad[k] + gradErr[k]), yb = y(grad[k] - gradErr[k]);
    eb.append("line").attr("x1", cx).attr("x2", cx).attr("y1", yt).attr("y2", yb).attr("stroke", "#222").attr("stroke-width", 1.3);
    eb.append("line").attr("x1", cx - 3).attr("x2", cx + 3).attr("y1", yt).attr("y2", yt).attr("stroke", "#222").attr("stroke-width", 1.3);
    eb.append("line").attr("x1", cx - 3).attr("x2", cx + 3).attr("y1", yb).attr("y2", yb).attr("stroke", "#222").attr("stroke-width", 1.3);
  });
  plot.append("g").selectAll("circle").data(grad).join("circle")
    .attr("cx", (d, k) => x(massCenters[k])).attr("cy", d => y(d)).attr("r", 5.2)
    .attr("fill", "#f00").attr("fill-opacity", 0.78);

  makeAxes(box, x, y, massTicks, gradTicks, d3.format(".1f"), d3.format(".1f"), 6, 5);
}

const boxTR = {x0: 609.3, x1: 994, y0: 55.2, y1: 332};
const boxBR = {x0: 609.3, x1: 994, y0: 387.6, y1: 663.4};
gradPanel(boxTR, ohGradPts, ohGrad, ohGradErr,
  [{pts: ohFitLow, op: 0.85}, {pts: ohFitHigh, op: 0.85, dash: "10,5"}], true, [332, 55.2]);
gradPanel(boxBR, noGradPts, noGrad, noGradErr,
  [{pts: noFit, op: 0.7}], false, [663.4, 387.6]);

// ---------------- labels ----------------
function xLabelR(cx, by) {
  const t = svg.append("text").attr("x", cx).attr("y", by).attr("text-anchor", "middle");
  rich(t, [{t: "R", i: true}, {t: "/"}, {t: "R", i: true}, {t: "e", sub: true}], 17);
}
xLabelR(298, 369);
xLabelR(298, 702);

function xLabelM(cx, by) {
  const t = svg.append("text").attr("x", cx).attr("y", by).attr("text-anchor", "middle");
  rich(t, [{t: "log("}, {t: "M", i: true}, {t: " ⋆", sub: true}, {t: " /"}, {t: "M", i: true}, {t: " ⊙", sub: true}, {t: " )"}], 17);
}
xLabelM(801, 369);
xLabelM(801, 702);

svg.append("text").attr("transform", "translate(38.5,194) rotate(-90)")
  .attr("text-anchor", "middle").attr("font-size", 17).text("12 + log(O/H)");
svg.append("text").attr("transform", "translate(19,527) rotate(-90)")
  .attr("text-anchor", "middle").attr("font-size", 17).text("log(N/O)");

function yLabelGrad(cy, species) {
  const t = svg.append("text").attr("transform", `translate(561,${cy}) rotate(-90)`).attr("text-anchor", "middle");
  rich(t, [{t: "∇log(" + species + ") [dex "}, {t: "R", i: true}, {t: "e", sub: true},
           {t: "−1", sup: true, dx: -7}, {t: "]"}], 17);
}
yLabelGrad(193, "O/H");
yLabelGrad(526, "N/O");

// annotations
function note(xp, by, parts) {
  const t = svg.append("text").attr("x", xp).attr("y", by);
  rich(t, parts, 13.5);
}
note(629, 277, [{t: "r", i: true}, {t: "P", i: true, sub: true, dx: 1}, {t: "( < 10.5) =  − 0.97"}]);
note(629, 292, [{t: "m", i: true}, {t: "< 10.5", sub: true, dx: 1}, {t: " =  − 0.031"}]);
note(629, 307, [{t: "m", i: true}, {t: "> 10.5", sub: true, dx: 1}, {t: " = 0.061"}]);
note(629, 623, [{t: "r", i: true}, {t: "P", i: true, sub: true, dx: 1}, {t: " =  − 0.83"}]);
note(629, 638, [{t: "m", i: true}, {t: " =  − 0.048"}]);

// page number
svg.append("text").attr("x", 1004).attr("y", 20).attr("text-anchor", "end")
  .style("font-family", "'Liberation Serif', serif").attr("font-size", 18).text("7");
</script>
</body>
</html>
